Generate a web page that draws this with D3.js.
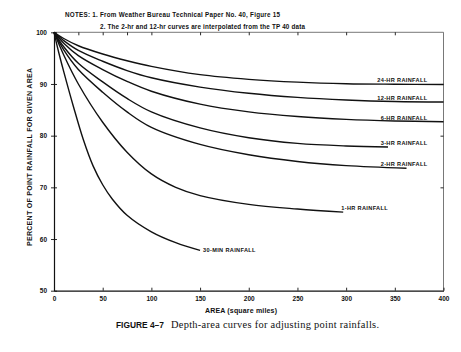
<!DOCTYPE html>
<html>
<head>
<meta charset="utf-8">
<script src="https://cdn.jsdelivr.net/npm/d3@7"></script>
<style>
  body { margin: 0; background: #fff; }
  svg { display: block; }
  text { fill: #111; }
</style>
</head>
<body>
<svg id="drawing_region"></svg>
<script>
// values: [area in sq. miles, percent of point rainfall]
const hr24  = [[0,100],[10,98.8],[25,97.4],[50,95.8],[75,94.5],[100,93.4],[150,91.8],[200,90.9],[250,90.35],[300,90.05],[350,89.95],[400,89.9]];
const hr12  = [[0,100],[10,98.4],[25,96.5],[50,94.4],[75,92.6],[100,91.2],[150,89.4],[200,88.2],[250,87.4],[300,86.9],[350,86.6],[400,86.5]];
const hr6   = [[0,100],[10,97.9],[25,95.5],[50,92.8],[75,90.5],[100,88.6],[150,86.1],[200,84.6],[250,83.7],[300,83.15],[350,82.85],[400,82.7]];
const hr3   = [[0,100],[10,97.2],[25,94.0],[50,90.4],[75,87.2],[100,84.6],[150,81.5],[200,79.6],[250,78.5],[300,78.0],[343,77.8]];
const hr2   = [[0,100],[10,96.6],[25,92.8],[50,88.4],[75,84.6],[100,81.6],[150,78.3],[200,76.3],[250,75.0],[300,74.2],[362,73.7]];
const hr1   = [[0,100],[10,95.6],[25,90.0],[50,82.6],[75,76.8],[100,72.6],[125,70.0],[150,68.4],[200,66.7],[250,65.8],[297,65.2]];
const min30 = [[0,100],[5,96.0],[10,92.4],[20,85.6],[30,79.3],[40,74.2],[50,70.5],[60,67.7],[75,64.6],[100,61.4],[125,59.3],[150,57.8]];

const seriesNames  = ['24-HR RAINFALL', '12-HR RAINFALL', '6-HR RAINFALL', '3-HR RAINFALL',
                      '2-HR RAINFALL', '1-HR RAINFALL', '30-MIN RAINFALL'];
const seriesValues = [hr24, hr12, hr6, hr3, hr2, hr1, min30];

const xTicks    = [0, 50, 100, 150, 200, 250, 300, 350, 400];
const xTopTicks = [25, 50, 75, 100, 150, 200, 250, 300, 350];
const yTicks    = [50, 60, 70, 80, 90, 100];
const yRightTicks = [70, 80, 90];

const notes = ['NOTES:  1. From Weather Bureau Technical Paper No. 40, Figure 15',
               '2. The 2-hr and 12-hr curves are interpolated from the TP 40 data'];

const width  = 461;
const height = 352;
const margin = { top: 32.3, right: 17.5, bottom: 61.3, left: 54 };

const svg = d3.select('#drawing_region')
    .attr('width', width)
    .attr('height', height);

const inner_width  = width  - margin.left - margin.right;
const inner_height = height - margin.top  - margin.bottom;

const chart = svg.append('g')
    .attr('transform', `translate(${margin.left}, ${margin.top})`);

const xscale = d3.scaleLinear().domain([0, 400]).range([0, inner_width]);
const yscale = d3.scaleLinear().domain([50, 100]).range([inner_height, 0]);

const sans = 'Liberation Sans, Arial, sans-serif';

// frame: top and right lighter
chart.append('line')
    .attr('x1', 0).attr('x2', inner_width).attr('y1', 0).attr('y2', 0)
    .attr('stroke', '#555').attr('stroke-width', 0.8);
chart.append('line')
    .attr('x1', inner_width).attr('x2', inner_width).attr('y1', 0).attr('y2', inner_height)
    .attr('stroke', '#555').attr('stroke-width', 0.8);

// bottom axis
chart.append('g')
    .attr('transform', `translate(0, ${inner_height})`)
    .call(d3.axisBottom(xscale).tickValues(xTicks).tickSize(-3).tickPadding(6).tickSizeOuter(0));

// top axis ticks (no labels)
chart.append('g')
    .call(d3.axisTop(xscale).tickValues(xTopTicks).tickSize(-3).tickFormat('').tickSizeOuter(0))
    .select('.domain').remove();

// left axis
const yAxis = chart.append('g')
    .call(d3.axisLeft(yscale).tickValues(yTicks).tickSize(3).tickPadding(4).tickSizeOuter(0));
yAxis.selectAll('.tick line').attr('x2', -3).attr('x1', 3);

// right axis ticks
chart.append('g')
    .attr('transform', `translate(${inner_width}, 0)`)
    .call(d3.axisRight(yscale).tickValues(yRightTicks).tickSize(-3).tickFormat('').tickSizeOuter(0))
    .select('.domain').remove();

chart.selectAll('.domain').attr('stroke', '#111').attr('stroke-width', 1.2);
chart.selectAll('.tick line').attr('stroke', '#111').attr('stroke-width', 0.9);
chart.selectAll('.tick text')
    .attr('font-family', sans)
    .attr('font-size', '6.5px')
    .attr('font-weight', 'bold')
    .attr('fill', '#222');

// curves
const line = d3.line()
    .x(d => xscale(d[0]))
    .y(d => yscale(d[1]))
    .curve(d3.curveCatmullRom.alpha(0.5));

chart.selectAll('path.curve')
    .data(seriesValues)
    .enter()
    .append('path')
    .attr('class', 'curve')
    .attr('d', line)
    .attr('fill', 'none')
    .attr('stroke', '#111')
    .attr('stroke-width', 1.4);

// curve labels
chart.selectAll('text.curve-label')
    .data(seriesValues)
    .enter()
    .append('text')
    .attr('class', 'curve-label')
    .each(function (d, i) {
        const last = d[d.length - 1];
        const longCurve = last[0] >= 340;
        d3.select(this)
            .attr('x', longCurve ? xscale(400) - 16 : xscale(last[0]) + (i === 6 ? 3 : -2))
            .attr('y', yscale(last[1]) + (i === 6 ? 2 : -2))
            .attr('text-anchor', longCurve ? 'end' : 'start');
    })
    .attr('font-family', sans)
    .attr('font-size', '5.6px')
    .attr('font-weight', 'bold')
    .attr('letter-spacing', '0.35px')
    .text((d, i) => seriesNames[i]);

// notes
svg.append('text')
    .attr('x', 65).attr('y', 17)
    .attr('font-family', sans).attr('font-size', '6.3px').attr('font-weight', 'bold')
    .attr('textLength', 215).attr('lengthAdjust', 'spacing')
    .text(notes[0]);
svg.append('text')
    .attr('x', 100).attr('y', 29)
    .attr('font-family', sans).attr('font-size', '6.3px').attr('font-weight', 'bold')
    .attr('textLength', 205).attr('lengthAdjust', 'spacing')
    .text(notes[1]);

// axis titles
svg.append('text')
    .attr('transform', 'rotate(-90)')
    .attr('x', -157)
    .attr('y', 32)
    .attr('text-anchor', 'middle')
    .attr('font-family', sans).attr('font-size', '7px').attr('font-weight', 'bold')
    .attr('textLength', 178).attr('lengthAdjust', 'spacing')
    .text('PERCENT OF POINT RAINFALL FOR GIVEN AREA');

svg.append('text')
    .attr('x', 241)
    .attr('y', 313)
    .attr('text-anchor', 'middle')
    .attr('font-family', sans).attr('font-size', '7px').attr('font-weight', 'bold')
    .attr('textLength', 72).attr('lengthAdjust', 'spacing')
    .text('AREA (square miles)');

// caption
svg.append('text')
    .attr('x', 116).attr('y', 327.5)
    .attr('font-family', sans).attr('font-size', '8.4px').attr('font-weight', 'bold')
    .text('FIGURE 4–7');
svg.append('text')
    .attr('x', 171).attr('y', 327.5)
    .attr('font-family', 'Liberation Serif, Times New Roman, serif').attr('font-size', '10.4px')
    .attr('textLength', 208).attr('lengthAdjust', 'spacing')
    .text('Depth-area curves for adjusting point rainfalls.');
</script>
</body>
</html>
